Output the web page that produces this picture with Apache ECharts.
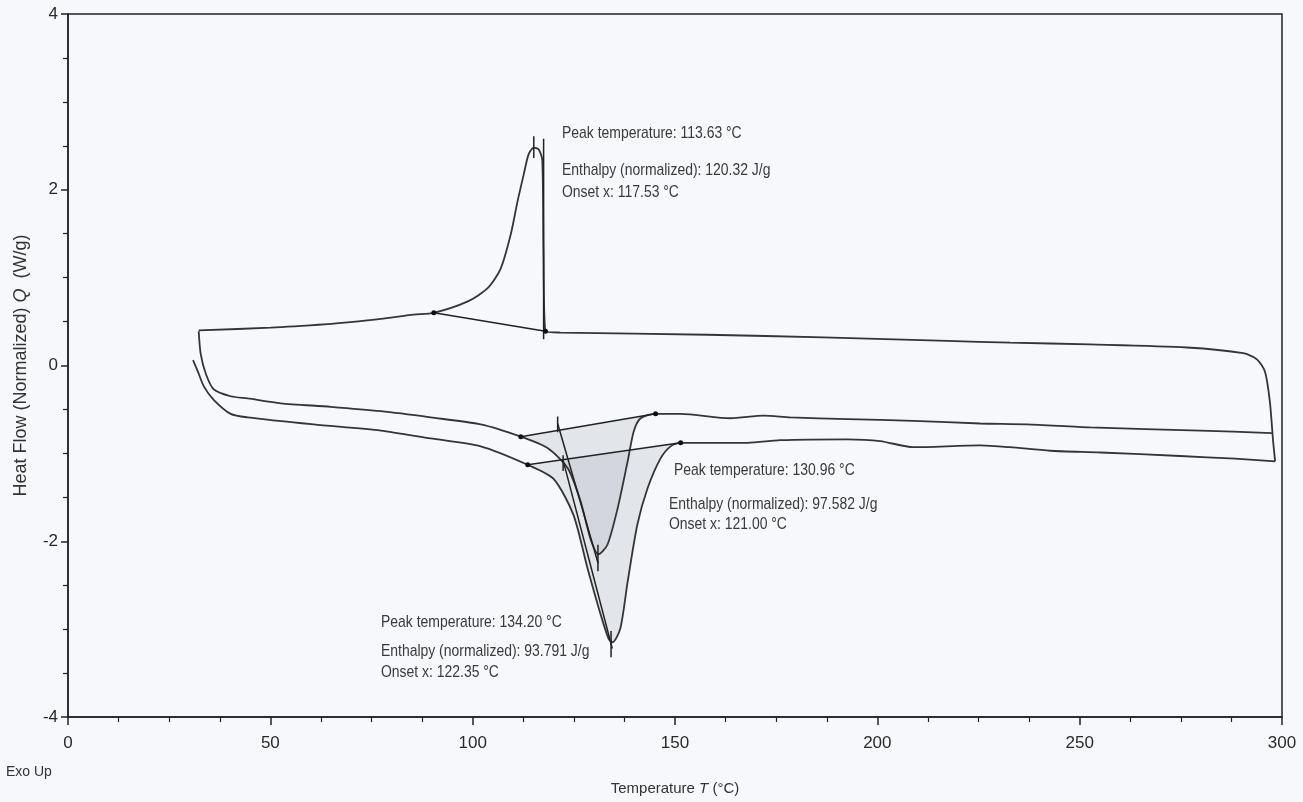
<!DOCTYPE html>
<html><head><meta charset="utf-8">
<script src="https://cdn.jsdelivr.net/npm/echarts@6/dist/echarts.min.js"></script>
<style>html,body{margin:0;padding:0;background:#f6f8fb}#c{width:1303px;height:802px}</style>
</head><body><div id="c"></div>
<script>
const FONT = '"Liberation Sans",Arial,sans-serif';

// X-axis tick labels (°C) and Y-axis tick labels (W/g)
const xTicks = [0, 50, 100, 150, 200, 250, 300];
const yTicks = [-4, -2, 0, 2, 4];

// First heating run [T °C, Q W/g]
const heating1 = [
  [30.9,0.06],[32.1,-0.07],[33.6,-0.24],[36.0,-0.39],[40.2,-0.55],[44.4,-0.59],
  [60.7,-0.67],[77.3,-0.74],[89.6,-0.83],[102.0,-0.92],[113.6,-1.13],[120.0,-1.29],
  [124.9,-1.70],[128.4,-2.31],[131.6,-2.83],[133.6,-3.11],[134.6,-3.15],[136.5,-2.99],
  [138.3,-2.46],[140.7,-1.81],[143.2,-1.40],[146.4,-1.06],[148.9,-0.92],[151.4,-0.88],
  [167.9,-0.88],[176.0,-0.85],[192.6,-0.84],[200.7,-0.86],[208.9,-0.93],[225.4,-0.91],
  [232.8,-0.93],[242.7,-0.97],[255.1,-0.99],[274.8,-1.03],[288.4,-1.06],[298.3,-1.09]
];

// Cooling run [T °C, Q W/g]
const cooling = [
  [32.3,0.40],[50.1,0.43],[64.2,0.47],[69.1,0.49],[77.3,0.53],[85.4,0.58],[90.4,0.60],
  [98.8,0.73],[103.7,0.88],[106.9,1.10],[109.4,1.49],[111.1,1.87],[112.6,2.17],
  [113.8,2.40],[115.1,2.48],[116.3,2.46],[117.2,2.34],[117.5,1.30],[118.0,0.39],
  [121.7,0.375],[158.0,0.35],[186.7,0.32],[217.3,0.28],[232.8,0.26],[252.6,0.24],
  [276.5,0.205],[290.4,0.14],[293.8,0.07],[295.8,-0.07],[297.0,-0.41],[297.8,-0.86],[298.3,-1.09]
];

// Second heating run [T °C, Q W/g]
const heating2 = [
  [32.3,0.39],[32.8,0.13],[34.1,-0.10],[36.0,-0.27],[40.2,-0.35],[44.4,-0.375],
  [52.6,-0.43],[64.9,-0.47],[77.3,-0.52],[89.6,-0.59],[102.0,-0.67],[111.9,-0.81],
  [118.5,-0.94],[123.5,-1.17],[126.7,-1.55],[129.1,-1.97],[131.1,-2.15],[133.3,-2.04],
  [135.8,-1.63],[138.3,-1.09],[139.8,-0.75],[141.5,-0.60],[145.2,-0.55],[151.4,-0.55],
  [163.7,-0.60],[171.9,-0.57],[178.5,-0.59],[192.6,-0.61],[208.9,-0.63],[225.4,-0.66],
  [237.0,-0.67],[252.6,-0.705],[279.8,-0.74],[297.5,-0.77]
];

// Integration baselines (endpoints)
const baseCool = [[90.4,0.60],[118.0,0.39]];
const baseH1 = [[113.6,-1.13],[151.4,-0.88]];
const baseH2 = [[111.9,-0.81],[145.2,-0.55]];

// Onset / peak marker lines
const onsetCool = [[117.53,2.58],[117.53,0.30]];
const peakTickCool = [[115.1,2.61],[115.1,2.36]];
const onsetTickH2 = [[121.0,-0.58],[121.0,-0.76]];
const tangentH2 = [[121.0,-0.66],[131.0,-2.25]];
const peakTickH2 = [[130.96,-2.04],[130.96,-2.34]];
const onsetTickH1 = [[122.35,-1.02],[122.35,-1.20]];
const tangentH1 = [[122.35,-1.08],[134.5,-3.22]];
const peakTickH1 = [[134.2,-3.02],[134.2,-3.32]];

// Annotation texts
const annCool = ['Peak temperature: 113.63 °C', 'Enthalpy (normalized): 120.32 J/g', 'Onset x: 117.53 °C'];
const annH2 = ['Peak temperature: 130.96 °C', 'Enthalpy (normalized): 97.582 J/g', 'Onset x: 121.00 °C'];
const annH1 = ['Peak temperature: 134.20 °C', 'Enthalpy (normalized): 93.791 J/g', 'Onset x: 122.35 °C'];

const LINE = '#353535';

function region(curve, base){
  return curve.filter(p => p[0] >= base[0][0] && p[0] <= base[1][0]);
}
function shade(pts){
  return {
    type:'custom', silent:true, z:1, data: pts, encode:{x:0,y:1},
    renderItem:(params, api) => {
      if (params.dataIndex !== 0) return null;
      return {type:'polygon', shape:{points: pts.map(d => api.coord(d))},
        style:{fill:'rgba(165,170,180,0.24)', stroke:null}};
    }
  };
}
function curve(d, w){
  return {type:'line', data:d, showSymbol:false, smooth:0.25, z:3,
    lineStyle:{color:LINE, width:w||1.8}, silent:true};
}
function seg(d, sym){
  return {type:'line', data:d, showSymbol:!!sym, symbol:'circle', symbolSize:5, z:4,
    itemStyle:{color:'#111'}, lineStyle:{color:'#222', width:1.5}, silent:true};
}

const chart = echarts.init(document.getElementById('c'));
function t(text, x, y){
  return {type:'text', x:x, y:y, scaleX:0.82, style:{text:text, fontFamily:FONT, fontSize:17, fill:'#3a3a3a', verticalAlign:'middle'}};
}
function annText(lines, x1, x2, ys){
  return [t(lines[0], x1, ys[0]), t(lines[1], x2, ys[1]), t(lines[2], x2, ys[2])];
}

chart.setOption({
  backgroundColor:'#f6f8fb',
  animation:false,
  grid:{left:68, right:21, top:14, bottom:85, show:true, borderColor:'#222', borderWidth:1.5},
  xAxis:{
    type:'value', min:xTicks[0], max:xTicks[xTicks.length-1], interval:50,
    name:'{n|Temperature }{i|T}{n| (°C)}', nameLocation:'middle', nameGap:64,
    nameTextStyle:{rich:{n:{fontFamily:FONT, fontSize:15, color:'#333'}, i:{fontFamily:FONT, fontSize:15, fontStyle:'italic', color:'#333'}}},
    axisLine:{onZero:false, lineStyle:{color:'#222', width:1.5}},
    axisTick:{length:8, lineStyle:{color:'#222', width:1.5}},
    minorTick:{show:true, splitNumber:4, length:5, lineStyle:{color:'#222', width:1.2}},
    splitLine:{show:false},
    axisLabel:{fontFamily:FONT, fontSize:17, color:'#2a2a2a', margin:18}
  },
  yAxis:{
    type:'value', min:yTicks[0], max:yTicks[yTicks.length-1], interval:2,
    name:'{n|Heat Flow (Normalized) }{i|Q}{n|  (W/g)}', nameLocation:'middle', nameGap:38,
    nameTextStyle:{rich:{n:{fontFamily:FONT, fontSize:18, color:'#333'}, i:{fontFamily:FONT, fontSize:18, fontStyle:'italic', color:'#333'}}},
    axisLine:{show:true, onZero:false, lineStyle:{color:'#222', width:1.5}},
    axisTick:{show:true, length:7, lineStyle:{color:'#222', width:1.5}},
    minorTick:{show:true, splitNumber:4, length:5, lineStyle:{color:'#222', width:1.2}},
    splitLine:{show:false},
    axisLabel:{fontFamily:FONT, fontSize:17, color:'#2a2a2a', margin:10}
  },
  graphic:[
    {type:'text', left:6, top:765, style:{text:'Exo Up', fontFamily:FONT, fontSize:14, fill:'#333'}}
  ].concat(
    annText(annCool, 562, 562, [133, 170, 192]),
    annText(annH2, 674, 669, [470, 504, 524]),
    annText(annH1, 381, 381, [622, 651, 672])
  ),
  series:[
    shade(region(heating1, baseH1)),
    shade(region(heating2, baseH2)),
    curve(heating1), curve(cooling), curve(heating2),
    seg(baseCool, true), seg(baseH1, true), seg(baseH2, true),
    seg(onsetCool), seg(peakTickCool), seg(onsetTickH2), seg(tangentH2), seg(peakTickH2),
    seg(onsetTickH1), seg(tangentH1), seg(peakTickH1)
  ]
});
</script></body></html>
